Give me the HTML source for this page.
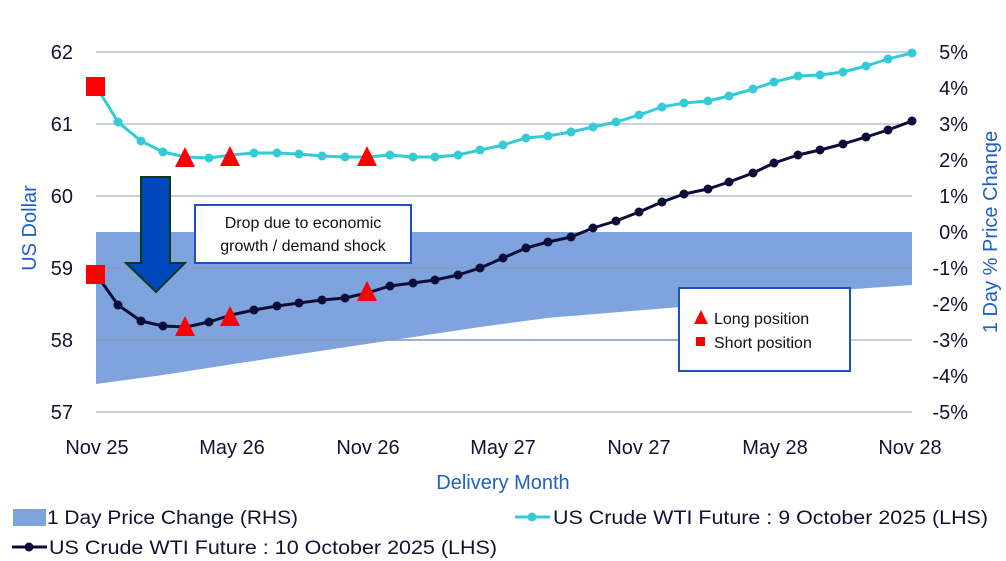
<!DOCTYPE html>
<html><head><meta charset="utf-8"><style>
html,body{margin:0;padding:0;background:#fff;}
svg{display:block;font-family:"Liberation Sans",sans-serif;}
</style></head><body>
<svg width="1006" height="561" viewBox="0 0 1006 561" xmlns="http://www.w3.org/2000/svg">
<!-- band -->
<path d="M96,232 L912,232 L912,285 L813,292 L680,307 L547,318 L480,327 L380,342 L253,361 L163,375 L96,384 Z" fill="#7fa3dc"/>
<!-- grid -->
<g stroke="#b4c2d6" stroke-width="1.5">
<line x1="96" y1="52" x2="912" y2="52"/><line x1="96" y1="124" x2="912" y2="124"/>
<line x1="96" y1="196" x2="912" y2="196"/><line x1="96" y1="268" x2="912" y2="268"/>
<line x1="96" y1="340" x2="912" y2="340"/><line x1="96" y1="412" x2="912" y2="412"/>
</g>
<g stroke="#5b7fc0" stroke-width="1.2" opacity="0.7">
<line x1="96" y1="268" x2="912" y2="268"/><line x1="96" y1="340" x2="680" y2="340"/>
</g>
<!-- cyan series -->
<polyline fill="none" stroke="#33ccd6" stroke-width="3" stroke-linejoin="round" points="96,86 118,122 141,141 163,152 186,157 209,158 231,155 254,153 277,153 299,154 322,156 345,157 367,157 390,155 413,157 435,157 458,155 480,150 503,145 526,138 548,136 571,132 593,127 616,122 639,115 662,107 684,103 708,101 729,96 753,89 774,82 798,76 820,75 843,72 866,66 888,59 912,53"/>
<g fill="#33ccd6">
<circle cx="118" cy="122" r="4.5"/><circle cx="141" cy="141" r="4.5"/><circle cx="163" cy="152" r="4.5"/><circle cx="209" cy="158" r="4.5"/><circle cx="254" cy="153" r="4.5"/><circle cx="277" cy="153" r="4.5"/><circle cx="299" cy="154" r="4.5"/><circle cx="322" cy="156" r="4.5"/><circle cx="345" cy="157" r="4.5"/><circle cx="390" cy="155" r="4.5"/><circle cx="413" cy="157" r="4.5"/><circle cx="435" cy="157" r="4.5"/><circle cx="458" cy="155" r="4.5"/><circle cx="480" cy="150" r="4.5"/><circle cx="503" cy="145" r="4.5"/><circle cx="526" cy="138" r="4.5"/><circle cx="548" cy="136" r="4.5"/><circle cx="571" cy="132" r="4.5"/><circle cx="593" cy="127" r="4.5"/><circle cx="616" cy="122" r="4.5"/><circle cx="639" cy="115" r="4.5"/><circle cx="662" cy="107" r="4.5"/><circle cx="684" cy="103" r="4.5"/><circle cx="708" cy="101" r="4.5"/><circle cx="729" cy="96" r="4.5"/><circle cx="753" cy="89" r="4.5"/><circle cx="774" cy="82" r="4.5"/><circle cx="798" cy="76" r="4.5"/><circle cx="820" cy="75" r="4.5"/><circle cx="843" cy="72" r="4.5"/><circle cx="866" cy="66" r="4.5"/><circle cx="888" cy="59" r="4.5"/><circle cx="912" cy="53" r="4.5"/>
</g>
<!-- navy series -->
<polyline fill="none" stroke="#0d0d3a" stroke-width="3" stroke-linejoin="round" points="96,274 118,305 141,321 163,326 186,327 209,322 231,315 254,310 277,306 299,303 322,300 345,298 367,293 390,286 413,283 435,280 458,275 480,268 503,258 526,248 548,242 571,237 593,228 616,221 639,212 662,202 684,194 708,189 729,182 753,173 774,163 798,155 820,150 843,144 866,137 888,130 912,121"/>
<g fill="#0d0d3a">
<circle cx="118" cy="305" r="4.5"/><circle cx="141" cy="321" r="4.5"/><circle cx="163" cy="326" r="4.5"/><circle cx="209" cy="322" r="4.5"/><circle cx="254" cy="310" r="4.5"/><circle cx="277" cy="306" r="4.5"/><circle cx="299" cy="303" r="4.5"/><circle cx="322" cy="300" r="4.5"/><circle cx="345" cy="298" r="4.5"/><circle cx="390" cy="286" r="4.5"/><circle cx="413" cy="283" r="4.5"/><circle cx="435" cy="280" r="4.5"/><circle cx="458" cy="275" r="4.5"/><circle cx="480" cy="268" r="4.5"/><circle cx="503" cy="258" r="4.5"/><circle cx="526" cy="248" r="4.5"/><circle cx="548" cy="242" r="4.5"/><circle cx="571" cy="237" r="4.5"/><circle cx="593" cy="228" r="4.5"/><circle cx="616" cy="221" r="4.5"/><circle cx="639" cy="212" r="4.5"/><circle cx="662" cy="202" r="4.5"/><circle cx="684" cy="194" r="4.5"/><circle cx="708" cy="189" r="4.5"/><circle cx="729" cy="182" r="4.5"/><circle cx="753" cy="173" r="4.5"/><circle cx="774" cy="163" r="4.5"/><circle cx="798" cy="155" r="4.5"/><circle cx="820" cy="150" r="4.5"/><circle cx="843" cy="144" r="4.5"/><circle cx="866" cy="137" r="4.5"/><circle cx="888" cy="130" r="4.5"/><circle cx="912" cy="121" r="4.5"/>
</g>
<!-- red markers -->
<g fill="#ff0000">
<rect x="86" y="77" width="19" height="19"/>
<rect x="86" y="265" width="19" height="19"/>
<polygon points="185,147 195,167 175,167"/><polygon points="230,146 240,166 220,166"/><polygon points="367,146 377,166 357,166"/>
<polygon points="185,316 195,336 175,336"/><polygon points="230,306 240,326 220,326"/><polygon points="367,281 377,301 357,301"/>
</g>
<!-- arrow -->
<polygon points="141,177 170,177 170,263 185,263 156,292 126,263 141,263" fill="#0047bb" stroke="#0e3a1e" stroke-width="2"/>
<!-- annotation -->
<rect x="195" y="205" width="216" height="58" fill="#fff" stroke="#1f4fc0" stroke-width="2"/>
<text x="303" y="228" font-size="16" fill="#111" text-anchor="middle">Drop due to economic</text>
<text x="303" y="251" font-size="16" fill="#111" text-anchor="middle">growth / demand shock</text>
<!-- legend box -->
<rect x="679" y="288" width="171" height="83" fill="#fff" stroke="#1f4fc0" stroke-width="2"/>
<polygon points="701,310 708,324 694,324" fill="#ff0000"/>
<text x="714" y="324" font-size="16" fill="#111">Long position</text>
<rect x="696" y="337" width="9" height="9" fill="#ff0000"/>
<text x="714" y="348" font-size="16" fill="#111">Short position</text>
<!-- left ticks -->
<g font-size="20" fill="#111133" text-anchor="end">
<text x="73" y="59">62</text><text x="73" y="131">61</text><text x="73" y="203">60</text>
<text x="73" y="275">59</text><text x="73" y="347">58</text><text x="73" y="419">57</text>
</g>
<!-- right ticks -->
<g font-size="20" fill="#111133" text-anchor="end">
<text x="968" y="59">5%</text><text x="968" y="95">4%</text><text x="968" y="131">3%</text>
<text x="968" y="167">2%</text><text x="968" y="203">1%</text><text x="968" y="239">0%</text>
<text x="968" y="275">-1%</text><text x="968" y="311">-2%</text><text x="968" y="347">-3%</text>
<text x="968" y="383">-4%</text><text x="968" y="419">-5%</text>
</g>
<!-- x ticks -->
<g font-size="20" fill="#111133" text-anchor="middle">
<text x="97" y="454">Nov 25</text><text x="232" y="454">May 26</text><text x="368" y="454">Nov 26</text>
<text x="503" y="454">May 27</text><text x="639" y="454">Nov 27</text><text x="775" y="454">May 28</text><text x="910" y="454">Nov 28</text>
</g>
<text x="503" y="489" font-size="20" fill="#1f5fc8" text-anchor="middle">Delivery Month</text>
<text transform="translate(36,228) rotate(-90)" font-size="20" fill="#1f5fc8" text-anchor="middle">US Dollar</text>
<text transform="translate(997,232) rotate(-90)" font-size="20" fill="#1f5fc8" text-anchor="middle">1 Day % Price Change</text>
<!-- bottom legend -->
<rect x="13" y="509" width="33" height="17" fill="#7fa3dc"/>
<text x="47" y="524" font-size="19" fill="#111133" textLength="251" lengthAdjust="spacingAndGlyphs">1 Day Price Change (RHS)</text>
<line x1="515" y1="517" x2="550" y2="517" stroke="#33ccd6" stroke-width="3"/><circle cx="532" cy="517" r="4.5" fill="#33ccd6"/>
<text x="553" y="524" font-size="19" fill="#111133" textLength="435" lengthAdjust="spacingAndGlyphs">US Crude WTI Future : 9 October 2025 (LHS)</text>
<line x1="12" y1="547" x2="47" y2="547" stroke="#0d0d3a" stroke-width="3"/><circle cx="29" cy="547" r="4.5" fill="#0d0d3a"/>
<text x="49" y="554" font-size="19" fill="#111133" textLength="448" lengthAdjust="spacingAndGlyphs">US Crude WTI Future : 10 October 2025 (LHS)</text>
</svg>
</body></html>
